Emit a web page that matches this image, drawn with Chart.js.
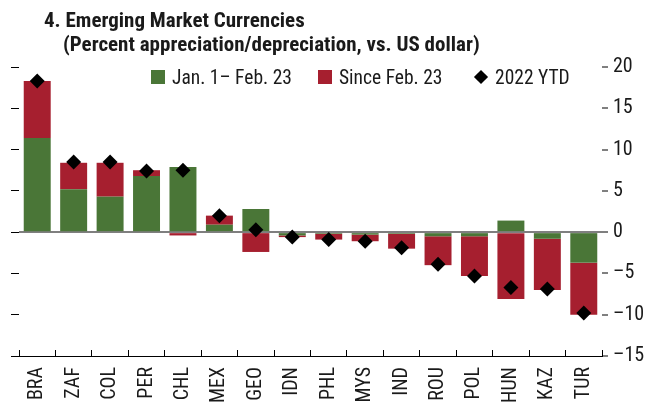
<!DOCTYPE html>
<html>
<head>
<meta charset="utf-8">
<script src="https://cdn.jsdelivr.net/npm/chart.js@4.4.1/dist/chart.umd.min.js"></script>
<style>
    body { margin: 0; background: #fff; }
    #wrap { position: relative; width: 662px; height: 403px; font-family: "Roboto Condensed", "DejaVu Sans Condensed", sans-serif; color: #1a1a1a; }
    #wrap canvas { position: absolute; left: 0; top: 0; }
    .title { position: absolute; font-weight: bold; font-size: 21px; white-space: nowrap; line-height: 1; }
    .legend-item { position: absolute; top: 70px; height: 14px; display: flex; align-items: center; font-size: 19.5px; white-space: nowrap; }
    .legend-item .swatch { width: 14px; height: 14px; margin-right: 7px; flex: none; }
    .legend-item .diamond { width: 10px; height: 10px; margin: 0 9px 0 2px; transform: rotate(45deg); background: #000; flex: none; }
</style>
</head>
<body>
<div id="wrap">
    <canvas id="chart" width="662" height="403"></canvas>
    <div class="title" style="left:44px; top:10px;">4. Emerging Market Currencies</div>
    <div class="title" style="left:63px; top:34px;">(Percent appreciation/depreciation, vs. US dollar)</div>
    <div id="legend"></div>
</div>
<script>
const countries = ["BRA", "ZAF", "COL", "PER", "CHL", "MEX", "GEO", "IDN",
    "PHL", "MYS", "IND", "ROU", "POL", "HUN", "KAZ", "TUR"];
const beforeFeb23 = [11.4, 5.2, 4.3, 6.8, 7.9, 0.9, 2.8, -0.4,
    -0.2, -0.3, -0.2, -0.5, -0.5, 1.4, -0.8, -3.7];
const sinceFeb23 = [6.9, 3.2, 4.1, 0.7, -0.4, 1.1, -2.4, -0.2,
    -0.7, -0.8, -1.8, -3.5, -4.8, -8.1, -6.2, -6.3];
const ytd2022 = [18.3, 8.5, 8.5, 7.4, 7.5, 2.0, 0.3, -0.6,
    -0.9, -1.1, -1.9, -3.9, -5.3, -6.7, -6.9, -9.8];
const yTicks = [20, 15, 10, 5, 0, -5, -10, -15];

const FONT = "'Roboto Condensed', 'DejaVu Sans Condensed', sans-serif";
const TEXT = "#1a1a1a";
const GREEN = "#4a7637";
const RED = "#a61f2f";

const minusDash = (v) => String(v).replace("-", "\u2013");

const chart = new Chart(document.getElementById("chart"), {
    type: "bar",
    data: {
        labels: countries,
        datasets: [
            {
                label: "Jan. 1\u2013 Feb. 23",
                data: beforeFeb23,
                stack: "bars",
                backgroundColor: GREEN,
                order: 1,
            },
            {
                label: "Since Feb. 23",
                data: sinceFeb23,
                stack: "bars",
                backgroundColor: RED,
                order: 1,
            },
            {
                type: "line",
                label: "2022 YTD",
                data: ytd2022,
                stack: "ytd",
                showLine: false,
                pointStyle: "rectRot",
                pointRadius: 7.5,
                pointHoverRadius: 7.5,
                backgroundColor: "#000",
                borderColor: "#000",
                pointBorderWidth: 0,
                order: 0,
            },
        ],
    },
    options: {
        responsive: false,
        animation: false,
        events: [],
        layout: { padding: { top: 67, left: 0, right: 0, bottom: 0 } },
        datasets: {
            bar: { categoryPercentage: 1, barPercentage: 0.74 },
        },
        plugins: {
            legend: { display: false },
            tooltip: { enabled: false },
        },
        scales: {
            x: {
                stacked: true,
                offset: true,
                border: { display: true, color: "#000", width: 1 },
                grid: {
                    offset: true,
                    drawOnChartArea: false,
                    drawTicks: true,
                    tickLength: -6,
                    tickColor: "#000",
                },
                ticks: {
                    autoSkip: false,
                    minRotation: 90,
                    maxRotation: 90,
                    padding: 17,
                    color: TEXT,
                    font: { family: FONT, size: 20 },
                },
                afterFit: (s) => { s.height = 47; },
            },
            y: {
                position: "right",
                stacked: true,
                min: -15,
                max: 20,
                z: 1,
                border: { display: false },
                grid: {
                    drawTicks: true,
                    tickLength: 6,
                    tickColor: "#000",
                    tickWidth: 1,
                    color: (c) => (c.tick && c.tick.value === 0 ? "#7f7f7f" : "rgba(0,0,0,0)"),
                    lineWidth: (c) => (c.tick && c.tick.value === 0 ? 2 : 0),
                },
                ticks: {
                    stepSize: 5,
                    padding: 5,
                    color: TEXT,
                    font: { family: FONT, size: 20 },
                    callback: (v) => (yTicks.includes(v) ? minusDash(v) : ""),
                },
                afterFit: (s) => { s.width = 60; },
            },
            yl: {
                position: "left",
                min: -15,
                max: 20,
                border: { display: false },
                grid: {
                    drawOnChartArea: false,
                    drawTicks: true,
                    tickLength: 8,
                    tickColor: "#000",
                },
                ticks: { stepSize: 5, display: false },
                afterFit: (s) => { s.width = 19; },
            },
        },
    },
});

// legend built from the chart's own datasets, placed inside the plot area
const legendLeft = [151, 318, 474];
const legendEl = document.getElementById("legend");
chart.data.datasets.forEach((ds, i) => {
    const item = document.createElement("div");
    item.className = "legend-item";
    item.style.left = legendLeft[i] + "px";
    const mark = document.createElement("span");
    if (ds.type === "line") {
        mark.className = "diamond";
    } else {
        mark.className = "swatch";
        mark.style.background = ds.backgroundColor;
    }
    const label = document.createElement("span");
    label.textContent = ds.label;
    item.appendChild(mark);
    item.appendChild(label);
    legendEl.appendChild(item);
});
</script>
</body>
</html>
